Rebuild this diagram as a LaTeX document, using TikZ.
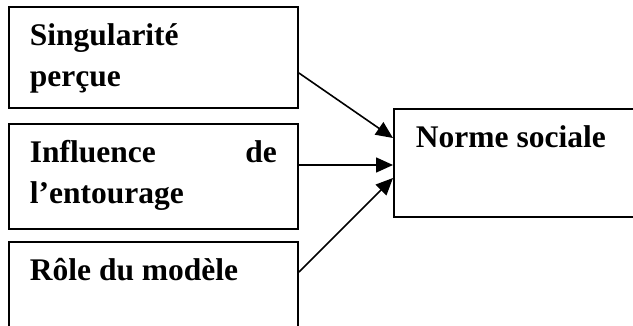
\documentclass[tikz,border=0pt]{standalone}
\usepackage{fontspec}
\setmainfont{Liberation Serif}
\usetikzlibrary{arrows.meta,positioning,calc}
\tolerance=10000
\hyphenpenalty=10000

\begin{document}
\begin{tikzpicture}[
  x=1pt,y=-1pt,
  every node/.style={font=\fontsize{31.5}{41}\selectfont\bfseries},
  factor/.style={draw,line width=1.9pt,anchor=north west,text width=247pt,
    inner xsep=21pt,inner ysep=10pt,align=justify,text height=29pt},
  link/.style={-{Triangle[length=17pt,width=15pt]},line width=1.6pt},
]
  \useasboundingbox (0,0) rectangle (633,326);
  % Factors (left column)
  \node[factor,text depth=52pt] (singul) at (8,6) {Singularité\linebreak perçue};
  \node[factor,text depth=56pt] (entour) at (8,123) {Influence de\linebreak l’entourage};
  \node[factor,text depth=100pt] (modele) at (8,241) {Rôle du modèle};
  % Outcome
  \node[factor,text width=240pt,inner xsep=22pt,text depth=59pt] (norme) at (393,108) {Norme sociale};
  % Arrows
  \draw[link] ([yshift=-67pt]singul.north east) -- ([yshift=-30pt]norme.north west);
  \draw[link] ([yshift=-42pt]entour.north east) -- ([yshift=-57pt]norme.north west);
  \draw[link] ([yshift=-31pt]modele.north east) -- ([yshift=-70pt]norme.north west);
\end{tikzpicture}
\end{document}
